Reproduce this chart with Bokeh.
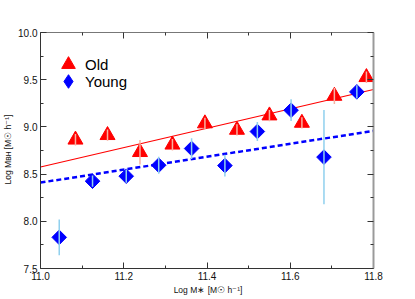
import numpy as np
from bokeh.plotting import figure
from bokeh.models import LinearAxis, FixedTicker, Legend, LegendItem, Range1d
from bokeh.embed import file_html
from bokeh.resources import INLINE

# ---- data ----
old_x = [11.084, 11.161, 11.239, 11.317, 11.395, 11.472, 11.550, 11.628, 11.706, 11.783]
old_y = [8.864, 8.912, 8.732, 8.811, 9.036, 8.968, 9.120, 9.042, 9.328, 9.526]
old_err = [0.06, 0.06, 0.13, 0.06, 0.06, 0.06, 0.06, 0.06, 0.085, 0.06]

young_x = [11.045, 11.125, 11.206, 11.284, 11.363, 11.443, 11.521, 11.602, 11.681, 11.760]
young_y = [7.830, 8.425, 8.478, 8.594, 8.771, 8.590, 8.951, 9.177, 8.680, 9.371]
young_err = [0.19, 0.06, 0.07, 0.09, 0.11, 0.115, 0.10, 0.115, 0.50, 0.07]

fit_x = [11.0, 11.8]
old_fit = [8.575, 9.396]
young_fit = [8.41, 8.958]

x_ticks = [11.0, 11.2, 11.4, 11.6, 11.8]
x_tick_labels = ["11.0", "11.2", "11.4", "11.6", "11.8"]
x_minor = [11.1, 11.3, 11.5, 11.7]
y_ticks = [7.5, 8.0, 8.5, 9.0, 9.5, 10.0]
y_tick_labels = ["7.5", "8.0", "8.5", "9.0", "9.5", "10.0"]
y_minor = [7.75, 8.25, 8.75, 9.25, 9.75]

FONT = "Liberation Sans"

p = figure(frame_width=333, frame_height=236, output_backend="svg", toolbar_location=None,
           x_range=Range1d(11.0, 11.8), y_range=Range1d(7.5, 10.0),
           min_border_left=33, min_border_right=20, min_border_top=32, min_border_bottom=12)
p.grid.visible = False
p.outline_line_color = None
p.background_fill_color = "white"

# fits
p.line(fit_x, old_fit, line_color="red", line_width=1.2)
p.line(fit_x, young_fit, line_color="blue", line_width=2.5, line_dash="5 3")

# markers
r_old = p.scatter(old_x, old_y, marker="triangle", size=15, fill_color="red", line_color="red")
r_young = p.scatter(young_x, young_y, marker="square", angle=np.pi / 4, size=10.3,
                    fill_color="blue", line_color="blue")
# legend stand-in for the rotated squares (legend glyphs are drawn unrotated); hidden in the plot
r_young_leg = p.scatter(young_x, young_y, marker="diamond", fill_color="blue", line_color="blue",
                        visible=False)

# error bars (drawn over the markers)
p.segment(old_x, [y - e for y, e in zip(old_y, old_err)], old_x, [y + e for y, e in zip(old_y, old_err)],
          line_color="#f7b2a2", line_width=1.5)
p.segment(young_x, [y - e for y, e in zip(young_y, young_err)], young_x, [y + e for y, e in zip(young_y, young_err)],
          line_color="#8fd0ee", line_width=1.5)

# axes
xt = FixedTicker(ticks=x_ticks, minor_ticks=x_minor)
yt = FixedTicker(ticks=y_ticks, minor_ticks=y_minor)


def style(ax, line_color, line_width):
    ax.major_tick_in = 6
    ax.major_tick_out = 0
    ax.minor_tick_in = 3
    ax.minor_tick_out = 0
    ax.axis_line_color = line_color
    ax.axis_line_width = line_width
    ax.major_tick_line_color = "#333333"
    ax.minor_tick_line_color = "#333333"
    ax.major_label_text_font = FONT
    ax.major_label_text_font_size = "10px"
    ax.major_label_text_color = "#111111"
    ax.major_label_standoff = 3
    ax.axis_label_text_font = FONT
    ax.axis_label_text_font_size = "8.5px"
    ax.axis_label_text_font_style = "normal"
    ax.axis_label_text_color = "#111111"
    ax.axis_label_standoff = 2


xa = p.xaxis[0]
xa.ticker = xt
xa.major_label_overrides = dict(zip(x_ticks, x_tick_labels))
xa.axis_label = "Log M\u2217 [M\u2609 h\u207b\u00b9]"
style(xa, "#333333", 1)

ya = p.yaxis[0]
ya.ticker = yt
ya.major_label_overrides = dict(zip(y_ticks, y_tick_labels))
ya.axis_label = "Log M\u0299\u029c [M\u2609 h\u207b\u00b9]"
style(ya, "#333333", 1)

# frame axes on top and right: ticks only, no labels
top = LinearAxis(ticker=xt, major_label_overrides={t: "" for t in x_ticks})
style(top, "#777777", 1)
p.add_layout(top, "above")

right = LinearAxis(ticker=yt, major_label_overrides={t: "" for t in y_ticks})
style(right, "#9a9a9a", 2)
p.add_layout(right, "right")

# legend (two single-item legends to control marker sizes)
leg_kw = dict(glyph_width=34, glyph_height=34, label_standoff=0, padding=0, margin=0,
              border_line_alpha=0, background_fill_alpha=0, inactive_fill_alpha=0,
              label_text_font=FONT, label_text_font_size="15px", label_text_color="black")
leg_old = Legend(items=[LegendItem(label="Old", renderers=[r_old])], location=(11, 187), **leg_kw)
leg_young = Legend(items=[LegendItem(label="Young", renderers=[r_young_leg])], location=(11, 170), **leg_kw)
p.add_layout(leg_old)
p.add_layout(leg_young)

open("out.html", "w").write(file_html(p, INLINE))
